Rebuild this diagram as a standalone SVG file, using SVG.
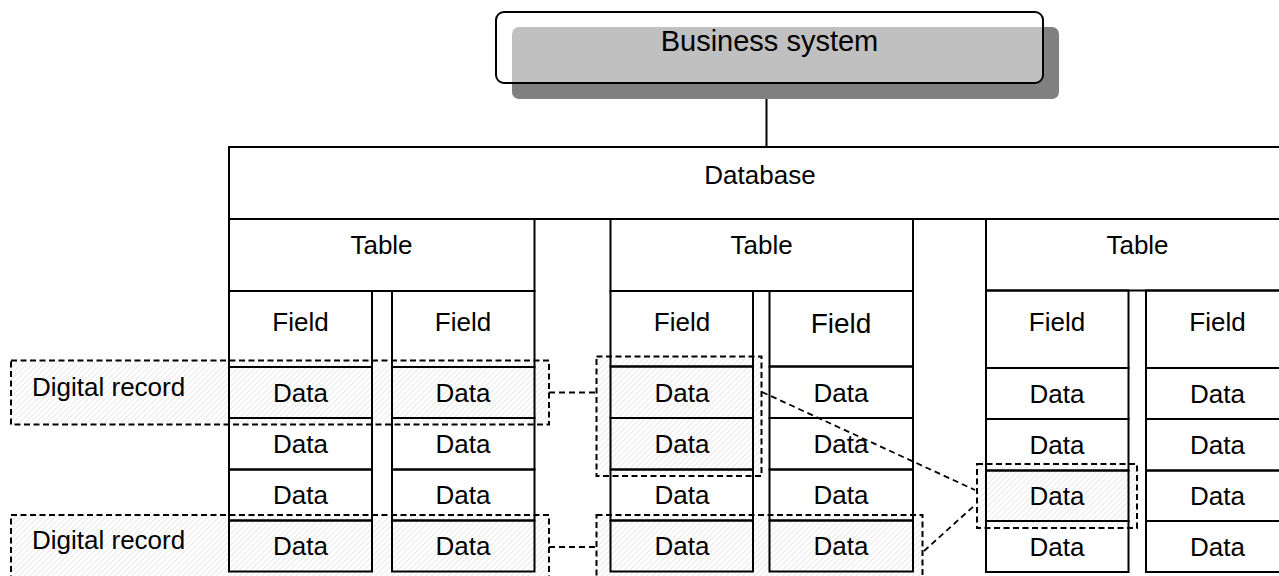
<svg xmlns="http://www.w3.org/2000/svg" width="1279" height="576" viewBox="0 0 1279 576">
<defs>
<pattern id="hatch" width="4" height="4" patternUnits="userSpaceOnUse" patternTransform="rotate(45)">
<line x1="0" y1="0" x2="0" y2="4" stroke="#d6d6d6" stroke-width="1.1"/>
</pattern>
<style>
.t{font-family:"Liberation Sans",Arial,sans-serif;font-size:26px;fill:#000;text-anchor:middle}
.s{fill:none;stroke:#000;stroke-width:2}
.rec{fill:url(#hatch);stroke:#000;stroke-width:2;stroke-dasharray:6,3.5}
.dash{fill:none;stroke:#000;stroke-width:1.8;stroke-dasharray:6,4}
</style>
</defs>
<rect x="0" y="0" width="1279" height="576" fill="#fff"/>

<g id="records">
<rect class="rec" x="11" y="360.5" width="538" height="64"/>
<rect class="rec" x="11" y="515" width="538" height="70"/>
<rect class="rec" x="596.5" y="356.5" width="165" height="119.5"/>
<rect class="rec" x="596.5" y="515" width="326" height="70"/>
<rect class="rec" x="977" y="464" width="160" height="64"/>
</g>

<g id="business-system">
<rect x="512" y="27" width="547" height="72" rx="7" fill="#808080"/>
<rect x="496" y="12" width="547" height="71" rx="8" fill="#fff" fill-opacity="0.5" stroke="#000" stroke-width="2"/>
<text class="t" x="769.5" y="51" style="font-size:29px">Business system</text>
</g>

<g id="connectors">
<line class="s" x1="766.5" y1="99" x2="766.5" y2="147"/>
<line class="dash" x1="549" y1="392.5" x2="596.5" y2="392.5"/>
<line class="dash" x1="549" y1="547" x2="596.5" y2="547"/>
<line class="dash" x1="762" y1="392" x2="975" y2="490"/>
<line class="dash" x1="924" y1="551" x2="975" y2="505"/>
</g>

<g id="database">
<rect class="s" x="229" y="147" width="1070" height="72"/>
<text class="t" x="760" y="184">Database</text>
</g>

<g id="table-1">
<rect class="s" x="229" y="219" width="305.5" height="72"/>
<text class="t" x="381.5" y="254">Table</text>
<g id="t1-col1">
<rect class="s" x="229" y="291" width="143" height="76"/>
<rect class="s" x="229" y="367" width="143" height="51"/>
<rect class="s" x="229" y="418" width="143" height="51.5"/>
<rect class="s" x="229" y="469.5" width="143" height="51"/>
<rect class="s" x="229" y="520.5" width="143" height="51"/>
<text class="t" x="300.5" y="331">Field</text>
<text class="t" x="300.5" y="402">Data</text>
<text class="t" x="300.5" y="453">Data</text>
<text class="t" x="300.5" y="504">Data</text>
<text class="t" x="300.5" y="555">Data</text>
</g>
<g id="t1-col2">
<rect class="s" x="392" y="291" width="142.5" height="76"/>
<rect class="s" x="392" y="367" width="142.5" height="51"/>
<rect class="s" x="392" y="418" width="142.5" height="51.5"/>
<rect class="s" x="392" y="469.5" width="142.5" height="51"/>
<rect class="s" x="392" y="520.5" width="142.5" height="51"/>
<text class="t" x="463" y="331">Field</text>
<text class="t" x="463" y="402">Data</text>
<text class="t" x="463" y="453">Data</text>
<text class="t" x="463" y="504">Data</text>
<text class="t" x="463" y="555">Data</text>
</g>
</g>

<g id="table-2">
<rect class="s" x="610.5" y="219" width="302.5" height="72"/>
<text class="t" x="761.7" y="254">Table</text>
<g id="t2-col1">
<rect class="s" x="610.5" y="291" width="142.5" height="75.5"/>
<rect class="s" x="610.5" y="366.5" width="142.5" height="51.5"/>
<rect class="s" x="610.5" y="418" width="142.5" height="51.5"/>
<rect class="s" x="610.5" y="469.5" width="142.5" height="51"/>
<rect class="s" x="610.5" y="520.5" width="142.5" height="51"/>
<text class="t" x="682" y="331">Field</text>
<text class="t" x="682" y="402">Data</text>
<text class="t" x="682" y="453">Data</text>
<text class="t" x="682" y="504">Data</text>
<text class="t" x="682" y="555">Data</text>
</g>
<g id="t2-col2">
<rect class="s" x="769.5" y="291" width="143.5" height="75.5"/>
<rect class="s" x="769.5" y="366.5" width="143.5" height="51.5"/>
<rect class="s" x="769.5" y="418" width="143.5" height="51.5"/>
<rect class="s" x="769.5" y="469.5" width="143.5" height="51"/>
<rect class="s" x="769.5" y="520.5" width="143.5" height="51"/>
<text class="t" x="841" y="333" style="font-size:28px">Field</text>
<text class="t" x="841" y="402">Data</text>
<text class="t" x="841" y="453">Data</text>
<text class="t" x="841" y="504">Data</text>
<text class="t" x="841" y="555">Data</text>
</g>
</g>

<g id="table-3">
<rect class="s" x="986" y="219" width="313" height="71.5"/>
<text class="t" x="1137.5" y="254">Table</text>
<g id="t3-col1">
<rect class="s" x="986" y="290.5" width="142.5" height="77.5"/>
<rect class="s" x="986" y="368" width="142.5" height="51"/>
<rect class="s" x="986" y="419" width="142.5" height="51.5"/>
<rect class="s" x="986" y="470.5" width="142.5" height="50.5"/>
<rect class="s" x="986" y="521" width="142.5" height="51"/>
<text class="t" x="1057" y="331">Field</text>
<text class="t" x="1057" y="403">Data</text>
<text class="t" x="1057" y="454">Data</text>
<text class="t" x="1057" y="505">Data</text>
<text class="t" x="1057" y="556">Data</text>
</g>
<g id="t3-col2">
<rect class="s" x="1146" y="290.5" width="143" height="77.5"/>
<rect class="s" x="1146" y="368" width="143" height="51"/>
<rect class="s" x="1146" y="419" width="143" height="51.5"/>
<rect class="s" x="1146" y="470.5" width="143" height="50.5"/>
<rect class="s" x="1146" y="521" width="143" height="51"/>
<text class="t" x="1217.5" y="331">Field</text>
<text class="t" x="1217.5" y="403">Data</text>
<text class="t" x="1217.5" y="454">Data</text>
<text class="t" x="1217.5" y="505">Data</text>
<text class="t" x="1217.5" y="556">Data</text>
</g>
</g>

<g id="labels">
<text class="t" x="32" y="395.5" style="text-anchor:start">Digital record</text>
<text class="t" x="32" y="549" style="text-anchor:start">Digital record</text>
</g>
</svg>
